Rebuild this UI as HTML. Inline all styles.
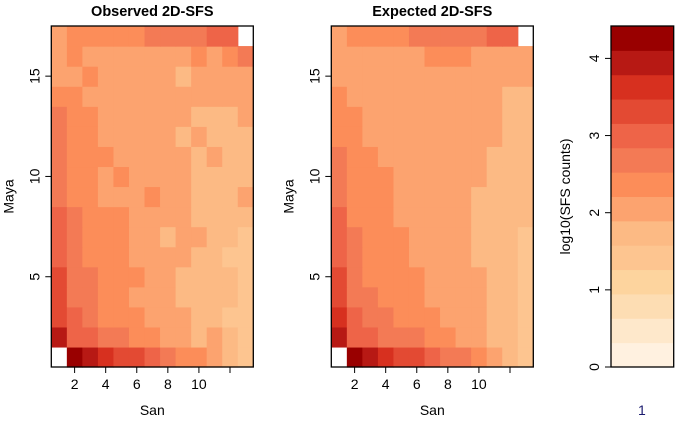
<!DOCTYPE html>
<html><head><meta charset="utf-8"><style>
html,body{margin:0;padding:0;background:#fff}
svg{display:block;font-family:"Liberation Sans",Arial,sans-serif}
</style></head><body>
<svg id="c" width="700" height="432" viewBox="0 0 700 432"></svg>
<script>
// Level bins (0..13); null = empty cell. Rows bottom(Maya=1) to top(Maya=17), cols San=1..13
const observedBins = [
 [null,13,12,11,10,10,9,8,7,7,6,5,4],
 [12,9,9,8,8,7,7,6,6,5,6,5,4],
 [10,9,8,7,7,7,6,6,6,5,5,4,4],
 [10,8,8,7,7,6,6,6,5,5,5,5,4],
 [10,8,8,7,7,7,6,6,5,5,5,5,4],
 [9,8,7,7,7,6,6,6,6,5,5,4,4],
 [9,8,7,7,7,6,6,5,6,6,5,5,4],
 [9,8,7,7,7,6,6,6,6,5,5,5,5],
 [8,7,7,6,6,6,7,6,6,5,5,5,6],
 [8,7,7,6,7,6,6,6,6,5,5,5,5],
 [8,7,7,7,6,6,6,6,6,5,6,5,5],
 [8,7,7,6,6,6,6,6,5,6,5,5,5],
 [8,7,7,6,6,6,6,6,6,5,5,5,6],
 [7,7,6,6,6,6,6,6,6,6,6,6,6],
 [6,6,7,6,6,6,6,6,5,6,6,6,6],
 [6,7,6,6,6,6,6,6,6,7,6,7,8],
 [6,7,7,7,7,7,8,8,8,8,9,9,null]
];
const expectedBins = [
 [null,13,12,11,10,10,9,8,8,7,6,5,4],
 [12,9,9,8,8,8,7,7,6,6,5,5,4],
 [11,9,8,8,7,7,7,6,6,6,5,5,4],
 [10,8,8,7,7,7,6,6,6,6,5,5,4],
 [10,8,7,7,7,7,6,6,6,6,5,5,4],
 [9,8,7,7,7,6,6,6,6,5,5,5,4],
 [9,8,7,7,7,6,6,6,6,5,5,5,4],
 [9,7,7,7,6,6,6,6,6,5,5,5,5],
 [8,7,7,7,6,6,6,6,6,5,5,5,5],
 [8,7,7,7,6,6,6,6,6,6,5,5,5],
 [8,7,7,6,6,6,6,6,6,6,5,5,5],
 [7,7,6,6,6,6,6,6,6,6,6,5,5],
 [7,7,6,6,6,6,6,6,6,6,6,5,5],
 [7,6,6,6,6,6,6,6,6,6,6,5,5],
 [6,6,6,6,6,6,6,6,6,6,6,6,6],
 [6,6,6,6,6,6,7,7,7,6,6,6,6],
 [6,7,7,7,7,8,8,8,8,8,9,9,null]
];
const xTickValues = [2,4,6,8,10,12];
const xTickLabels = ["2","4","6","8","10",""];
const yTickValues = [5,10,15];
const cbTickValues = [0,1,2,3,4];
const palette = ["#FFF1E0","#FEE8CB","#FDDDB3","#FDD49E","#FDC590","#FCBA84","#FCA36F","#FC8D59","#F37A55","#EE6448","#E34A33","#D7301F","#B71914","#990000"];

const NS="http://www.w3.org/2000/svg";
const svg=document.getElementById('c');
function el(t,a,p){const e=document.createElementNS(NS,t);for(const k in a)e.setAttribute(k,a[k]);(p||svg).appendChild(e);return e;}
const yTop=26,yBot=367,nRows=17,nCols=13,binW=4.42/14;
const FS=14;

function panel(x0,x1,bins,title,key){
  const g=el('g',{});
  
  
  const cw=(x1-x0)/nCols, ch=(yBot-yTop)/nRows;
  const sx=v=>x0+(v-0.5)*cw;
  const sy=v=>yBot-(v-0.5)*ch;
  bins.forEach((row,r)=>row.forEach((b,c)=>{
    if(b===null) return;
    const rc=el('rect',{x:sx(c+0.5),y:sy(r+1.5),width:cw+0.6,height:ch+0.6,fill:palette[b]},g);
    
    
  }));
  const box=el('rect',{x:x0,y:yTop,width:x1-x0,height:yBot-yTop,fill:'none',stroke:'#000','stroke-width':1.3},g);
  
  
  xTickValues.forEach((v,i)=>{
    const x=sx(v);
    el('line',{x1:x,x2:x,y1:yBot,y2:yBot+6,stroke:'#000'},g);
    const t=el('text',{x:x,y:yBot+22,'font-size':FS,'text-anchor':'middle'},g);t.textContent=xTickLabels[i];
    
    
  });
  yTickValues.forEach(v=>{
    const Y=sy(v);
    el('line',{x1:x0-6,x2:x0,y1:Y,y2:Y,stroke:'#000'},g);
    const t=el('text',{x:0,y:0,'font-size':FS,'text-anchor':'middle',transform:`translate(${x0-12},${Y}) rotate(-90)`},g);t.textContent=v;
    
    
  });
  const tt=el('text',{x:(x0+x1)/2,y:16,'font-size':14.5,'font-weight':'bold','text-anchor':'middle'},g);tt.textContent=title;
  
  
  const xl=el('text',{x:(x0+x1)/2,y:415,'font-size':FS,'text-anchor':'middle'},g);xl.textContent='San';
  
  
  const yl=el('text',{x:0,y:0,'font-size':FS,'text-anchor':'middle',transform:`translate(${x0-38},${(yTop+yBot)/2}) rotate(-90)`},g);yl.textContent='Maya';
  
  
}
panel(51.3,253.3,observedBins,'Observed 2D-SFS','observed');
panel(331.3,533.3,expectedBins,'Expected 2D-SFS','expected');

// colorbar
const cg=el('g',{});


const cx0=611,cx1=673.7,maxV=4.42;
const cy=v=>yBot-v*(yBot-yTop)/maxV;
palette.forEach((col,i)=>{
  const r=el('rect',{x:cx0,y:cy((i+1)*binW),width:cx1-cx0,height:cy(i*binW)-cy((i+1)*binW)+0.5,fill:col},cg);
  
  
});
el('rect',{x:cx0,y:yTop,width:cx1-cx0,height:yBot-yTop,fill:'none',stroke:'#000','stroke-width':1.3},cg);
cbTickValues.forEach(v=>{
  const Y=cy(v);
  el('line',{x1:cx0-6,x2:cx0,y1:Y,y2:Y,stroke:'#000'},cg);
  const t=el('text',{x:0,y:0,'font-size':FS,'text-anchor':'middle',transform:`translate(${cx0-12},${Y}) rotate(-90)`},cg);t.textContent=v;
  
  
});
const cl=el('text',{x:0,y:0,'font-size':FS,'text-anchor':'middle',transform:`translate(${cx0-41},${(yTop+yBot)/2}) rotate(-90)`},cg);cl.textContent='log10(SFS counts)';


const one=el('text',{x:(cx0+cx1)/2-0.5,y:415,'font-size':FS,'text-anchor':'middle',fill:'#1a1a6e'},cg);one.textContent='1';


</script>
</body></html>
